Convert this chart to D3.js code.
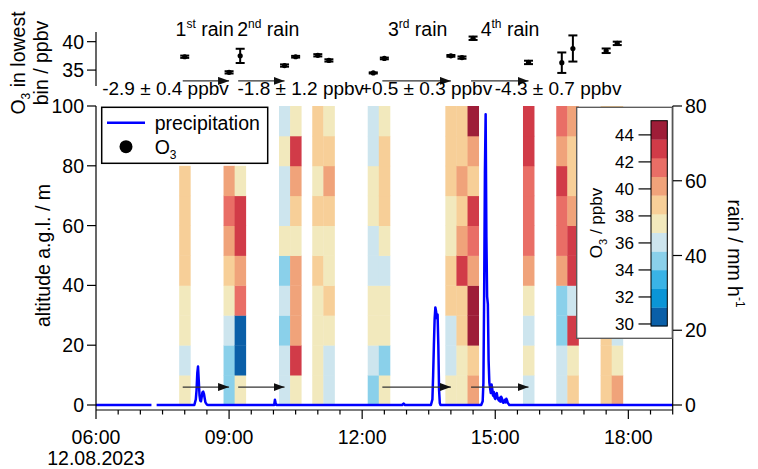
<!DOCTYPE html>
<html>
<head>
<meta charset="utf-8">
<script src="https://cdn.jsdelivr.net/npm/d3@7"></script>
<style>
  html, body { margin: 0; padding: 0; background: #fff; }
  svg { display: block; }
  text { font-family: "Liberation Sans", Arial, Helvetica, sans-serif; fill: #000; }
</style>
</head>
<body>
<svg id="chart" width="758" height="469"></svg>
<script>
// ---------------- data ----------------
const day = "2023-08-12";

// centre times of the 15-min O3 profiles
const profileTimes = ["08:00","09:00","09:15","10:15","10:30","11:00","11:15","12:15","12:30",
                      "14:00","14:15","14:30","15:45","16:30","16:45","17:30","17:45"];

// altitude bin edges, m a.g.l.
const altitudeEdges = [0,10,20,30,40,50,60,70,80,90,100];

// O3 per 10 m bin (ppbv), lowest bin first; null = no data
const o3Profiles = [
  [37.35,36.1,37.4,37.4,38.8,38.8,38.8,38.8,null,null],
  [34.6,34.7,36.1,37.4,38.8,40.2,41.6,40.2,null,null],
  [37.5,30.5,30.5,41.6,40.2,43.0,43.0,37.4,null,null],
  [35.8,36.1,34.7,36.1,34.7,37.4,36.1,36.1,37.4,36.1],
  [37.35,43.0,40.2,40.2,40.2,37.4,38.8,40.2,43.0,37.4],
  [37.6,37.4,37.4,37.4,38.8,37.4,38.8,37.4,38.8,38.8],
  [36.7,36.1,37.4,38.8,37.4,37.4,38.8,40.2,38.8,37.4],
  [34.5,36.1,37.4,37.4,36.1,36.1,37.4,37.4,36.1,36.1],
  [37.05,34.7,37.4,37.4,36.1,37.4,38.8,38.8,38.8,37.4],
  [37.5,36.1,36.1,38.8,38.8,37.4,37.4,38.8,38.8,38.8],
  [37.2,37.4,38.8,38.8,43.0,40.2,38.8,40.2,38.8,38.8],
  [40.6,38.8,44.4,44.4,40.2,41.6,43.0,38.8,40.2,44.4],
  [36.35,37.4,36.1,37.4,40.2,41.6,41.6,41.6,43.0,43.0],
  [36.3,36.1,34.7,34.7,40.2,41.6,41.6,43.0,40.2,41.6],
  [38.8,37.4,43.0,36.1,43.0,43.0,40.2,38.8,38.8,40.2],
  [38.4,38.8,38.8,38.8,37.4,38.8,38.8,37.4,38.8,38.8],
  [39.7,37.4,36.1,37.4,38.8,38.8,37.4,38.8,37.4,38.8]
];

// uncertainty of the lowest-bin O3 (ppbv)
const lowestBinErr = [0.2,0.2,1.25,0.2,0.15,0.2,0.2,0.1,0.15,0.15,0.2,0.3,0.3,1.8,2.3,0.4,0.3];

// precipitation rate (mm/h); null = gap in the record
const rainTimes = ["06:00","07:15","07:18","07:22","08:13","08:15","08:16","08:17","08:18","08:19","08:20",
  "08:21","08:22","08:23","08:24","08:25","08:26","08:27","08:28","08:30","08:31",
  "10:01","10:02","10:03","10:04","12:54","12:56","12:58",
  "13:33","13:35","13:36","13:37","13:38","13:39","13:40","13:41","13:42","13:43","13:44","13:45","13:46",
  "14:41","14:43","14:44","14:45","14:46","14:47","14:48","14:49","14:50","14:51","14:52","14:53","14:54",
  "14:55","14:56","14:57","14:58","14:59","15:00","15:01","15:02","15:03","15:04","15:05","15:06","15:07",
  "15:08","15:09","15:10","15:11","15:12","15:13","15:14","15:15","15:16","15:17","15:18","15:19","19:00"];
const rainRates = [0,0,null,0,0,1.5,4.0,8.5,10.3,6.5,2.6,
  1.2,1.0,2.2,3.4,3.6,3.0,1.8,0.7,0.1,0,
  0,1.4,0.5,0,0,0.4,0,
  0,1.5,8,16,23,26.1,25.0,23.2,24.2,16,4,0.5,0,
  0,1,6,30,62,77.8,45,29,27,12,6,4.5,3.2,
  5.5,4.2,2.5,3.5,2.0,1.6,2.8,3.2,2.0,1.5,1.2,1.9,0.9,
  2.2,1.8,0.8,0.6,1.0,1.4,0.7,1.7,1.2,0.5,0.3,0,0];

// rain events: profile before / after, label and change of lowest-bin O3
const eventOrdinal = ["1","2","3","4"];
const eventSuffix = ["st","nd","rd","th"];
const eventBefore = ["08:00","09:15","12:30","14:30"];
const eventAfter  = ["09:00","10:15","14:00","15:45"];
const eventLabelTime = ["08:27","09:53","13:15","15:20"];
const changeText = ["-2.9 \u00b1 0.4 ppbv","-1.8 \u00b1 1.2 ppbv","+0.5 \u00b1 0.3 ppbv","-4.3 \u00b1 0.7 ppbv"];
const changeLabelTime = ["07:34","10:37","13:27","16:25"];

// colour classes of the O3 scale, low to high
const o3Colors = ["#0a5fa8","#0b95d6","#3ab3e6","#8ad0ea","#cde5ee","#f2e9bd",
                  "#f7cf98","#f0a37a","#e96e66","#d13b48","#9e1d38"];
const o3Range = [29.85, 45.05];
const o3ColorTicks = [30,32,34,36,38,40,42,44];
const altitudeTicks = [0,20,40,60,80,100];
const rainTicks = [0,20,40,60,80];
const lowestBinTicks = [35,40];
const majorTimeTicks = ["06:00","09:00","12:00","15:00","18:00"];

const FS = "19.5px";

// ---------------- scales ----------------
const svg = d3.select("#chart");
const parseTime = d3.timeParse("%Y-%m-%d %H:%M");
const at = s => parseTime(`${day} ${s}`);
const shiftMin = (d, m) => new Date(d.getTime() + m * 60000);

const x = d3.scaleTime().domain([at("06:00"), at("19:00")]).range([96, 672.7]);
const yAlt = d3.scaleLinear().domain([0, 100]).range([405, 106]);
const yRain = d3.scaleLinear().domain([0, 80]).range([405, 106]);
const yLow = d3.scaleLinear().domain([32.2, 41.7]).range([86, 32]);
const axisFloor = 410;
const color = d3.scaleQuantize().domain(o3Range).range(o3Colors);

// ---------------- heat map ----------------
const cells = [];
profileTimes.forEach((tm, i) => {
  const c = at(tm);
  o3Profiles[i].forEach((v, j) => {
    if (v == null) return;
    cells.push({ t0: shiftMin(c, -7.5), t1: shiftMin(c, 7.5),
                 z0: altitudeEdges[j], z1: altitudeEdges[j + 1], v });
  });
});
svg.append("g").selectAll("rect").data(cells).join("rect")
  .attr("x", d => x(d.t0))
  .attr("width", d => x(d.t1) - x(d.t0) + 0.4)
  .attr("y", d => yAlt(d.z1))
  .attr("height", d => yAlt(d.z0) - yAlt(d.z1) + 0.4)
  .attr("fill", d => color(d.v));

// ---------------- precipitation ----------------
const rain = rainTimes.map((s, i) => ({ t: at(s), v: rainRates[i] }));
svg.append("path").datum(rain)
  .attr("fill", "none").attr("stroke", "#0000ff").attr("stroke-width", 2.5)
  .attr("stroke-linejoin", "round")
  .attr("d", d3.line().defined(d => d.v != null).x(d => x(d.t)).y(d => yRain(d.v)));

// ---------------- arrows ----------------
const defs = svg.append("defs");
defs.append("marker").attr("id", "head")
  .attr("markerUnits", "userSpaceOnUse")
  .attr("markerWidth", 11).attr("markerHeight", 8)
  .attr("refX", 11).attr("refY", 4).attr("orient", "auto")
  .append("path").attr("d", "M0,0L11,4L0,8Z").attr("fill", "#111");

const arrowRows = [yLow(33.1), yAlt(6)];
arrowRows.forEach(yy => {
  svg.append("g").selectAll("line").data(eventBefore).join("line")
    .attr("x1", (d) => x(at(d)) - 2)
    .attr("x2", (d, i) => x(at(eventAfter[i])))
    .attr("y1", yy).attr("y2", yy)
    .attr("stroke", "#333").attr("stroke-width", 1.2)
    .attr("marker-end", "url(#head)");
});

// ---------------- lowest-bin O3 panel ----------------
const low = profileTimes.map((tm, i) => ({ t: at(tm), v: o3Profiles[i][0], e: lowestBinErr[i] }));
const eb = svg.append("g").attr("stroke", "#000").attr("stroke-width", 2);
low.forEach(d => {
  const cx = x(d.t);
  eb.append("line").attr("x1", cx).attr("x2", cx).attr("y1", yLow(d.v - d.e)).attr("y2", yLow(d.v + d.e));
  eb.append("line").attr("x1", cx - 4.5).attr("x2", cx + 4.5).attr("y1", yLow(d.v - d.e)).attr("y2", yLow(d.v - d.e));
  eb.append("line").attr("x1", cx - 4.5).attr("x2", cx + 4.5).attr("y1", yLow(d.v + d.e)).attr("y2", yLow(d.v + d.e));
});
svg.append("g").selectAll("circle").data(low).join("circle")
  .attr("cx", d => x(d.t)).attr("cy", d => yLow(d.v)).attr("r", 2.6).attr("fill", "#000");

// event labels ("1st rain" ...)
eventOrdinal.forEach((o, i) => {
  const tx = svg.append("text").attr("x", x(at(eventLabelTime[i]))).attr("y", yLow(41.0))
    .attr("text-anchor", "middle").style("font-size", FS);
  tx.append("tspan").text(o);
  tx.append("tspan").attr("dy", -8).style("font-size", "12px").text(eventSuffix[i]);
  tx.append("tspan").attr("dy", 8).text(" rain");
});
// change labels
svg.append("g").selectAll("text").data(changeText).join("text")
  .attr("x", (d, i) => x(at(changeLabelTime[i])))
  .attr("y", yLow.range()[0] + 9)
  .attr("text-anchor", "middle").style("font-size", "19px")
  .text(d => d);

// ---------------- axes ----------------
const axes = svg.append("g").attr("stroke", "#000").attr("stroke-width", 1.2);
// left altitude axis
axes.append("line").attr("x1", 96).attr("x2", 96).attr("y1", yAlt(100)).attr("y2", axisFloor);
axes.selectAll(".ta").data(altitudeTicks).join("line")
  .attr("x1", 87).attr("x2", 96).attr("y1", d => yAlt(d)).attr("y2", d => yAlt(d));
svg.append("g").selectAll("text").data(altitudeTicks).join("text")
  .attr("x", 84).attr("y", d => yAlt(d)).attr("dy", "0.36em")
  .attr("text-anchor", "end").style("font-size", FS).text(d => d);

// right rain axis
axes.append("line").attr("x1", 672.7).attr("x2", 672.7).attr("y1", yRain(80)).attr("y2", axisFloor);
axes.selectAll(".tr").data(rainTicks).join("line")
  .attr("x1", 672.7).attr("x2", 682).attr("y1", d => yRain(d)).attr("y2", d => yRain(d));
svg.append("g").selectAll("text").data(rainTicks).join("text")
  .attr("x", 685).attr("y", d => yRain(d)).attr("dy", "0.36em")
  .style("font-size", FS).text(d => d);

// top panel axis
axes.append("line").attr("x1", 96).attr("x2", 96).attr("y1", yLow.range()[1]).attr("y2", yLow.range()[0]);
axes.selectAll(".tl").data(lowestBinTicks).join("line")
  .attr("x1", 87).attr("x2", 96).attr("y1", d => yLow(d)).attr("y2", d => yLow(d));
svg.append("g").selectAll("text").data(lowestBinTicks).join("text")
  .attr("x", 84).attr("y", d => yLow(d)).attr("dy", "0.36em")
  .attr("text-anchor", "end").style("font-size", FS).text(d => d);

// time axis
axes.append("line").attr("x1", 96).attr("x2", 672.7).attr("y1", axisFloor).attr("y2", axisFloor);
const halfHours = d3.timeMinute.every(30).range(at("06:00"), shiftMin(at("19:00"), 1));
const majors = majorTimeTicks.map(at);
axes.selectAll(".tm").data(halfHours).join("line")
  .attr("x1", d => x(d)).attr("x2", d => x(d)).attr("y1", axisFloor)
  .attr("y2", d => axisFloor + (majors.some(m => +m === +d) ? 9 : 4.5));
const fmtHM = d3.timeFormat("%H:%M");
svg.append("g").selectAll("text").data(majors).join("text")
  .attr("x", d => x(d)).attr("y", 444)
  .attr("text-anchor", "middle").style("font-size", FS).text(d => fmtHM(d));
svg.append("text").attr("x", x(majors[0])).attr("y", 465)
  .attr("text-anchor", "middle").style("font-size", FS)
  .text(d3.timeFormat("%d.%m.%Y")(at("06:00")));

// axis titles
svg.append("text").attr("transform", `translate(50,${(yAlt(0) + yAlt(100)) / 2}) rotate(-90)`)
  .attr("text-anchor", "middle").style("font-size", FS).text("altitude a.g.l. / m");
const t2 = svg.append("text").attr("transform", `translate(728,${(yRain(0) + yRain(80)) / 2 - 2}) rotate(90)`)
  .attr("text-anchor", "middle").style("font-size", FS);
t2.append("tspan").text("rain / mm h");
t2.append("tspan").attr("dy", -8).style("font-size", "12px").text("-1");

const t3 = svg.append("text").attr("transform", "translate(25,63) rotate(-90)")
  .attr("text-anchor", "middle").style("font-size", FS);
t3.append("tspan").text("O");
t3.append("tspan").attr("dy", 5).style("font-size", "12px").text("3");
t3.append("tspan").attr("dy", -5).text(" in lowest");
svg.append("text").attr("transform", "translate(48,63) rotate(-90)")
  .attr("text-anchor", "middle").style("font-size", FS).text("bin / ppbv");

// ---------------- legend ----------------
const lg = svg.append("g");
lg.append("rect").attr("x", 101.7).attr("y", 107.3).attr("width", 166).attr("height", 56)
  .attr("fill", "#fff").attr("stroke", "#000").attr("stroke-width", 1.5);
lg.append("line").attr("x1", 107).attr("x2", 145).attr("y1", 122.7).attr("y2", 122.7)
  .attr("stroke", "#0000ff").attr("stroke-width", 2.5);
lg.append("text").attr("x", 154.7).attr("y", 122.7).attr("dy", "0.36em").style("font-size", FS).text("precipitation");
lg.append("circle").attr("cx", 126).attr("cy", 146.7).attr("r", 6.5).attr("fill", "#000");
const lo = lg.append("text").attr("x", 154.7).attr("y", 146.7).attr("dy", "0.36em").style("font-size", FS);
lo.append("tspan").text("O");
lo.append("tspan").attr("dy", 5).style("font-size", "12px").text("3");

// ---------------- colour bar ----------------
const cb = svg.append("g");
cb.append("rect").attr("x", 576.7).attr("y", 107.3).attr("width", 95.6).attr("height", 231)
  .attr("fill", "#fff").attr("stroke", "#555").attr("stroke-width", 1.3);
const yCb = d3.scaleLinear().domain(o3Range).range([326, 120.7]);
cb.selectAll(".band").data(o3Colors).join("rect")
  .attr("x", 651).attr("width", 16.3)
  .attr("y", d => yCb(color.invertExtent(d)[1]))
  .attr("height", d => yCb(color.invertExtent(d)[0]) - yCb(color.invertExtent(d)[1]) + 0.3)
  .attr("fill", d => d);
cb.append("rect").attr("x", 651).attr("y", yCb(o3Range[1])).attr("width", 16.3)
  .attr("height", yCb(o3Range[0]) - yCb(o3Range[1]))
  .attr("fill", "none").attr("stroke", "#000").attr("stroke-width", 1);
cb.selectAll(".ct").data(o3ColorTicks).join("line")
  .attr("x1", 638.5).attr("x2", 651).attr("y1", d => yCb(d)).attr("y2", d => yCb(d))
  .attr("stroke", "#000").attr("stroke-width", 1.2);
cb.selectAll(".cl").data(o3ColorTicks).join("text")
  .attr("x", 634).attr("y", d => yCb(d)).attr("dy", "0.36em")
  .attr("text-anchor", "end").style("font-size", "17px").text(d => d);
const ct = cb.append("text").attr("transform", "translate(602,223) rotate(-90)")
  .attr("text-anchor", "middle").style("font-size", "17px");
ct.append("tspan").text("O");
ct.append("tspan").attr("dy", 5).style("font-size", "11px").text("3");
ct.append("tspan").attr("dy", -5).text(" / ppbv");
</script>
</body>
</html>
